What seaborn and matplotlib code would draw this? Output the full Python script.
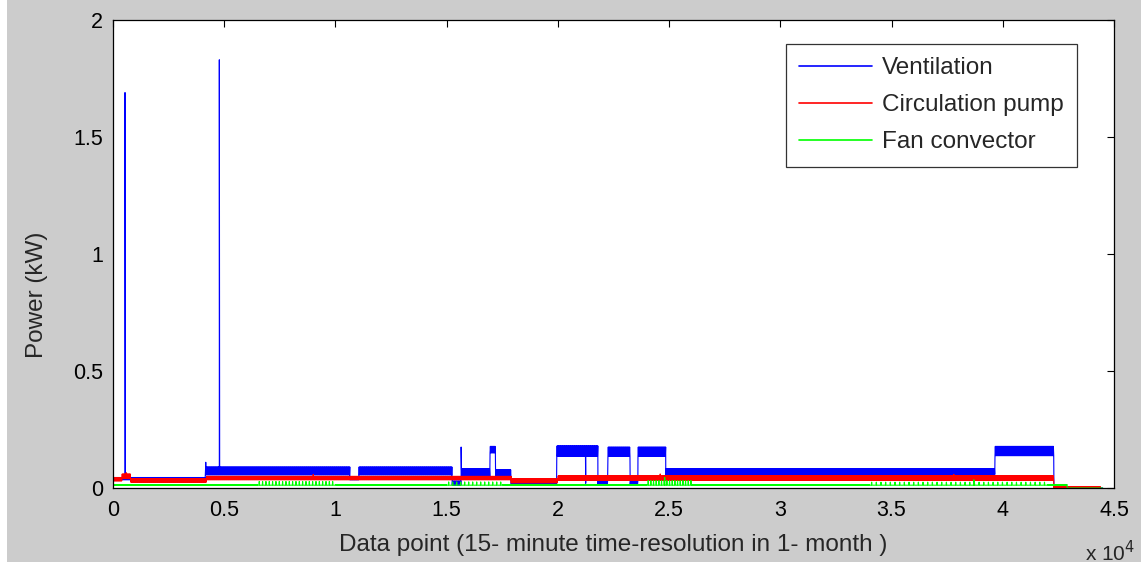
import numpy as np
import pandas as pd
import seaborn as sns
import matplotlib.pyplot as plt
from matplotlib.patches import Rectangle

# Piecewise description of each measured series, read off the picture
# (segment start, segment end, lower edge of band, upper edge of band, comb spacing)
vent_start = [0, 4150, 10650, 11050, 15250, 15650, 16950, 17200, 17900, 19950, 21800, 22250, 23250, 23600, 24850, 39650, 42300]
vent_end = [4150, 10650, 11050, 15250, 15650, 16950, 17200, 17900, 19950, 21800, 22250, 23250, 23600, 24850, 39650, 42300, 44500]
vent_low = [0.035, 0.056, 0.035, 0.056, 0.012, 0.05, 0.15, 0.05, 0.015, 0.135, 0.015, 0.135, 0.015, 0.135, 0.058, 0.138, 0.0]
vent_high = [0.045, 0.09, 0.045, 0.09, 0.03, 0.082, 0.178, 0.078, 0.03, 0.18, 0.03, 0.175, 0.03, 0.175, 0.083, 0.178, 0.0]
vent_every = [1] * 17
vent_spike_x = [540, 4170, 4780, 15650, 21250]
vent_spike_y = [1.69, 0.11, 1.83, 0.175, 0.02]

pump_start = [0, 400, 800, 4200, 17900, 20000, 42300]
pump_end = [400, 800, 4200, 17900, 20000, 42300, 44400]
pump_low = [0.03, 0.04, 0.025, 0.035, 0.022, 0.032, 0.0]
pump_high = [0.045, 0.06, 0.04, 0.05, 0.04, 0.052, 0.006]
pump_every = [1] * 7
pump_spike_x = [600, 9000, 24600, 37800]
pump_spike_y = [0.065, 0.058, 0.06, 0.058]

fan_start = [0, 6500, 10000, 15000, 17500, 24000, 26000, 34000, 42000, 42900]
fan_end = [6500, 10000, 15000, 17500, 24000, 26000, 34000, 42000, 42900, 44500]
fan_low = [0.012, 0.012, 0.012, 0.012, 0.012, 0.012, 0.012, 0.012, 0.012, 0.0]
fan_high = [0.015, 0.028, 0.015, 0.026, 0.015, 0.032, 0.015, 0.025, 0.015, 0.0]
fan_every = [1, 5, 1, 6, 1, 4, 1, 7, 1, 1]
fan_spike_x = [24800, 38700]
fan_spike_y = [0.045, 0.035]

names = ['Ventilation', 'Circulation pump', 'Fan convector']
colors = ['#0000ff', '#ff0000', '#00ff00']

x_ticks = [0, 5000, 10000, 15000, 20000, 25000, 30000, 35000, 40000, 45000]
x_tick_labels = ['0', '0.5', '1', '1.5', '2', '2.5', '3', '3.5', '4', '4.5']
y_ticks = [0, 0.5, 1, 1.5, 2]
y_tick_labels = ['0', '0.5', '1', '1.5', '2']


def build(name, starts, ends, lows, highs, every, sx, sy, step=15):
    xs, ys = [], []
    for s, e, lo, hi, k in zip(starts, ends, lows, highs, every):
        pts = np.arange(s, e, step)
        idx = np.arange(len(pts))
        if k > 1:
            vals = np.where(idx % (2 * k) == k, hi, lo)
        else:
            vals = np.where(idx % 2 == 1, hi, lo)
        xs.append(pts)
        ys.append(vals)
    xs.append(np.array(sx, dtype=float))
    ys.append(np.array(sy, dtype=float))
    x = np.concatenate(xs).astype(float)
    y = np.concatenate(ys).astype(float)
    order = np.argsort(x, kind='stable')
    return pd.DataFrame({'x': x[order], 'y': y[order], 'series': name})


df = pd.concat([
    build(names[0], vent_start, vent_end, vent_low, vent_high, vent_every, vent_spike_x, vent_spike_y),
    build(names[1], pump_start, pump_end, pump_low, pump_high, pump_every, pump_spike_x, pump_spike_y),
    build(names[2], fan_start, fan_end, fan_low, fan_high, fan_every, fan_spike_x, fan_spike_y),
], ignore_index=True)

sns.set_style('white')
plt.rcParams['font.family'] = ['Liberation Sans', 'DejaVu Sans']

fig = plt.figure(figsize=(11.41, 5.67), dpi=100, facecolor='white')
fig.patches.append(Rectangle((7 / 1141, 5 / 567), 1, 1, transform=fig.transFigure,
                             facecolor='#cccccc', edgecolor='none', zorder=-10))
ax = fig.add_axes([113 / 1141, 79 / 567, 1001 / 1141, 468 / 567])
ax.set_facecolor('white')

sns.lineplot(data=df, x='x', y='y', hue='series', hue_order=names,
             palette=dict(zip(names, colors)), estimator=None, sort=False,
             linewidth=0.8, ax=ax)

ax.set_xlim(0, 45000)
ax.set_ylim(0, 2)
ax.set_xticks(x_ticks)
ax.set_xticklabels(x_tick_labels)
ax.set_yticks(y_ticks)
ax.set_yticklabels(y_tick_labels)
ax.tick_params(direction='in', length=5, width=0.8, top=True, right=True,
               labelsize=15.5, colors='black')
ax.tick_params(axis='x', pad=9)
ax.tick_params(axis='y', pad=7)
for sp in ax.spines.values():
    sp.set_color('black')
    sp.set_linewidth(0.9)

ax.set_xlabel('Data point (15- minute time-resolution in 1- month )', fontsize=17.5)
ax.xaxis.set_label_coords(0.5, -0.098)
ax.set_ylabel('Power (kW)', fontsize=17.5)
ax.yaxis.set_label_coords(-0.076, 0.412)
ax.yaxis.label.set_va('center')
ax.text(0.971, -0.112, r'x 10$^{4}$', transform=ax.transAxes, fontsize=15,
        va='top', ha='left')

h, l = ax.get_legend_handles_labels()
leg = ax.legend(h, l, loc='upper right', bbox_to_anchor=(0.963, 0.949), borderaxespad=0,
                fontsize=17.5, frameon=True, fancybox=False, handlelength=3.0,
                handletextpad=0.4, labelspacing=0.62, borderpad=0.55)
leg.get_frame().set_edgecolor('black')
leg.get_frame().set_linewidth(0.9)
for line in leg.get_lines():
    line.set_linewidth(1.2)

fig.savefig('out.png', dpi=100, facecolor=fig.get_facecolor())
